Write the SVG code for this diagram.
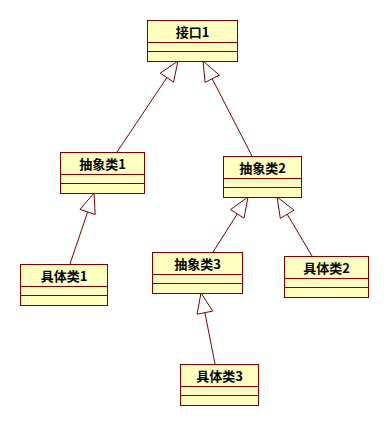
<svg xmlns="http://www.w3.org/2000/svg" width="389" height="426" viewBox="0 0 389 426">
<style>
.box{fill:#ffffc0;stroke:#800000;stroke-width:1}
.div{stroke:#800000;stroke-width:1}
.t{font-family:"Noto Sans CJK SC","Liberation Sans",sans-serif;font-weight:bold;font-size:13px;fill:#000;text-anchor:middle}
.ln{stroke:#800000;stroke-width:1;fill:none}
.ah{fill:#ffffff;stroke:#800000;stroke-width:1}
</style>
<rect width="389" height="426" fill="#ffffff"/>
<g id="connectors">
<line class="ln" x1="117" y1="152" x2="166.9" y2="77.6"/>
<polygon class="ah" points="178,61 173.5,82.1 160.2,73.2"/>
<line class="ln" x1="252" y1="156" x2="212.2" y2="78.8"/>
<polygon class="ah" points="203,61 219.3,75.1 205.1,82.4"/>
<line class="ln" x1="70" y1="264" x2="87.6" y2="212"/>
<polygon class="ah" points="94,193 95.2,214.5 80,209.4"/>
<line class="ln" x1="213" y1="252" x2="237.3" y2="213.9"/>
<polygon class="ah" points="248,197 244,218.2 230.5,209.6"/>
<line class="ln" x1="312" y1="256" x2="287.2" y2="214.2"/>
<polygon class="ah" points="277,197 294.1,210.1 280.3,218.3"/>
<line class="ln" x1="215" y1="364" x2="204.9" y2="312.6"/>
<polygon class="ah" points="201,293 212.7,311.1 197,314.2"/>
</g>
<g id="jiekou1">
<rect class="box" x="147.5" y="20.5" width="90" height="41"/>
<line class="div" x1="147.5" y1="42.5" x2="237.5" y2="42.5"/>
<line class="div" x1="147.5" y1="51.5" x2="237.5" y2="51.5"/>
<text class="t" x="192.5" y="36.5">接口1</text>
</g>
<g id="chouxianglei1">
<rect class="box" x="60.5" y="152.5" width="84" height="41"/>
<line class="div" x1="60.5" y1="174.5" x2="144.5" y2="174.5"/>
<line class="div" x1="60.5" y1="183.5" x2="144.5" y2="183.5"/>
<text class="t" x="102.5" y="168.5">抽象类1</text>
</g>
<g id="chouxianglei2">
<rect class="box" x="223.5" y="156.5" width="78" height="41"/>
<line class="div" x1="223.5" y1="178.5" x2="301.5" y2="178.5"/>
<line class="div" x1="223.5" y1="187.5" x2="301.5" y2="187.5"/>
<text class="t" x="262.5" y="172.5">抽象类2</text>
</g>
<g id="jutilei1">
<rect class="box" x="20.5" y="264.5" width="87" height="41"/>
<line class="div" x1="20.5" y1="286.5" x2="107.5" y2="286.5"/>
<line class="div" x1="20.5" y1="295.5" x2="107.5" y2="295.5"/>
<text class="t" x="64" y="280.5">具体类1</text>
</g>
<g id="chouxianglei3">
<rect class="box" x="152.5" y="252.5" width="90" height="41"/>
<line class="div" x1="152.5" y1="274.5" x2="242.5" y2="274.5"/>
<line class="div" x1="152.5" y1="283.5" x2="242.5" y2="283.5"/>
<text class="t" x="197.5" y="268.5">抽象类3</text>
</g>
<g id="jutilei2">
<rect class="box" x="284.5" y="256.5" width="84" height="41"/>
<line class="div" x1="284.5" y1="278.5" x2="368.5" y2="278.5"/>
<line class="div" x1="284.5" y1="287.5" x2="368.5" y2="287.5"/>
<text class="t" x="326.5" y="272.5">具体类2</text>
</g>
<g id="jutilei3">
<rect class="box" x="180.5" y="364.5" width="78" height="41"/>
<line class="div" x1="180.5" y1="386.5" x2="258.5" y2="386.5"/>
<line class="div" x1="180.5" y1="395.5" x2="258.5" y2="395.5"/>
<text class="t" x="219.5" y="380.5">具体类3</text>
</g>
</svg>
